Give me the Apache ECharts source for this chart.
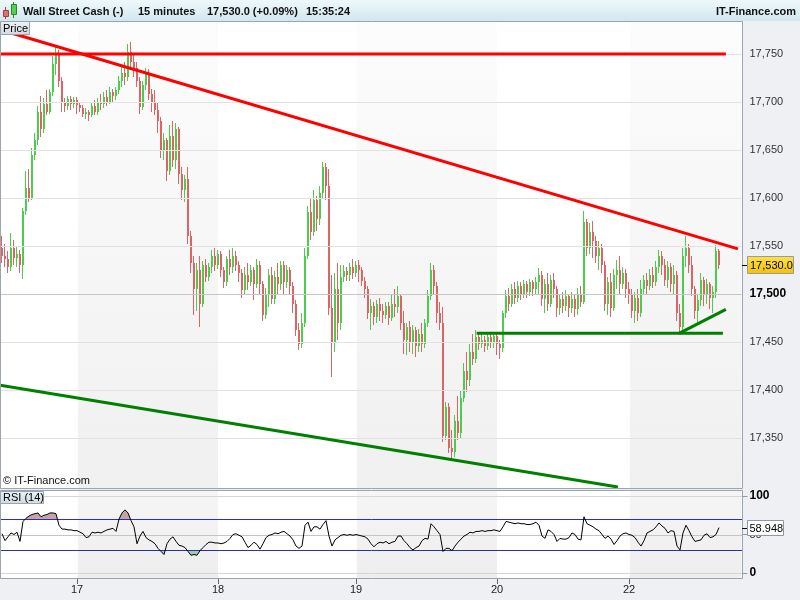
<!DOCTYPE html>
<html><head><meta charset="utf-8">
<script src="https://cdn.jsdelivr.net/npm/echarts@6/dist/echarts.min.js"></script>
<style>html,body{margin:0;padding:0;background:#eef0f3;}#c{width:800px;height:600px;}</style>
</head><body><div id="c"></div>
<script>
// ---------- DATA ----------
const instrument = 'Wall Street Cash (-)';
const timeframe = '15 minutes';
const lastPrice = 17530.0;
const lastChangePct = '+0.09%';
const clockText = '15:35:24';
const brand = 'IT-Finance.com';
const lastRsi = 58.948;

// candles: [open, close, low, high], one per 15-min slot (thinned)
const candles = [
[17548,17540,17532,17560],[17540,17536,17528,17552],[17536,17528,17522,17545],[17528,17548,17524,17564],
[17548,17538,17530,17556],[17538,17542,17528,17550],[17542,17530,17522,17546],[17530,17586,17516,17590],
[17586,17610,17582,17628],[17610,17600,17596,17630],[17600,17645,17598,17652],[17645,17660,17640,17668],
[17660,17690,17655,17696],[17690,17672,17664,17706],[17672,17698,17668,17704],[17698,17690,17686,17712],
[17690,17710,17688,17714],[17710,17740,17706,17748],[17740,17750,17728,17757],[17750,17722,17716,17754],
[17722,17700,17690,17726],[17700,17696,17690,17704],[17696,17703,17692,17706],[17703,17698,17692,17706],
[17698,17702,17694,17705],[17702,17697,17688,17705],[17697,17694,17690,17700],[17694,17688,17684,17697],
[17688,17690,17682,17694],[17690,17686,17680,17692],[17686,17696,17684,17700],[17696,17690,17686,17702],
[17690,17700,17686,17704],[17700,17698,17692,17708],[17698,17705,17694,17710],[17705,17700,17696,17712],
[17700,17710,17698,17716],[17710,17706,17700,17714],[17706,17712,17702,17716],[17712,17722,17708,17727],
[17722,17730,17716,17738],[17730,17726,17718,17742],[17726,17752,17722,17760],[17752,17742,17736,17762],
[17742,17735,17726,17750],[17735,17722,17716,17742],[17722,17695,17688,17726],[17695,17718,17692,17722],
[17718,17730,17712,17735],[17730,17708,17702,17734],[17708,17700,17690,17714],[17700,17692,17686,17712],
[17692,17680,17668,17700],[17680,17650,17642,17684],[17650,17660,17640,17668],[17660,17628,17618,17662],
[17628,17665,17624,17676],[17665,17640,17632,17680],[17640,17672,17630,17678],[17672,17625,17615,17674],
[17625,17608,17598,17632],[17608,17620,17596,17624],[17620,17560,17552,17632],[17560,17532,17522,17566],
[17532,17505,17478,17540],[17505,17525,17482,17532],[17525,17490,17466,17540],[17490,17530,17486,17534],
[17530,17518,17512,17536],[17518,17528,17514,17532],[17528,17540,17522,17546],[17540,17530,17524,17548],
[17530,17542,17526,17546],[17542,17525,17518,17545],[17525,17512,17506,17528],[17512,17536,17508,17540],
[17536,17528,17520,17546],[17528,17540,17522,17548],[17540,17530,17524,17545],[17530,17522,17512,17534],
[17522,17504,17496,17526],[17504,17520,17500,17528],[17520,17512,17504,17532],[17512,17525,17508,17530],
[17525,17510,17494,17528],[17510,17530,17506,17536],[17530,17510,17500,17534],[17510,17478,17472,17514],
[17478,17500,17474,17506],[17500,17520,17486,17526],[17520,17495,17490,17528],[17495,17518,17490,17524],
[17518,17510,17500,17532],[17510,17530,17504,17534],[17530,17512,17500,17534],[17512,17525,17506,17530],
[17525,17508,17500,17528],[17508,17490,17480,17512],[17490,17462,17456,17494],[17462,17448,17442,17470],
[17448,17470,17444,17480],[17470,17540,17466,17548],[17540,17585,17536,17592],[17585,17565,17556,17600],
[17565,17598,17560,17608],[17598,17578,17566,17602],[17578,17605,17572,17612],[17605,17632,17600,17638],
[17632,17612,17598,17636],[17612,17485,17478,17630],[17485,17450,17414,17520],[17450,17505,17440,17522],
[17505,17470,17452,17532],[17470,17518,17462,17530],[17518,17524,17512,17530],[17524,17520,17514,17528],
[17520,17528,17514,17532],[17528,17522,17516,17536],[17522,17530,17518,17534],[17530,17525,17512,17535],
[17525,17514,17508,17528],[17514,17505,17496,17518],[17505,17480,17474,17508],[17480,17488,17462,17495],
[17488,17476,17468,17492],[17476,17490,17470,17494],[17490,17482,17472,17496],[17482,17478,17470,17490],
[17478,17488,17474,17492],[17488,17475,17468,17492],[17475,17490,17472,17500],[17490,17486,17476,17505],
[17486,17498,17480,17508],[17498,17470,17462,17500],[17470,17452,17438,17482],[17452,17466,17436,17470],
[17466,17450,17440,17472],[17450,17462,17438,17468],[17462,17446,17434,17466],[17446,17458,17440,17464],
[17458,17448,17440,17470],[17448,17470,17444,17474],[17470,17498,17466,17504],[17498,17525,17494,17532],
[17525,17508,17500,17530],[17508,17480,17470,17512],[17480,17470,17462,17492],[17470,17352,17346,17486],
[17352,17382,17348,17388],[17382,17340,17334,17386],[17340,17335,17328,17358],[17335,17368,17330,17374],
[17368,17355,17348,17394],[17355,17392,17350,17400],[17392,17420,17388,17428],[17420,17410,17398,17440],
[17410,17440,17404,17448],[17440,17432,17426,17458],[17432,17455,17428,17462],[17455,17448,17442,17460],
[17448,17452,17444,17458],[17452,17446,17440,17456],[17446,17455,17442,17460],[17455,17450,17444,17458],
[17450,17456,17444,17460],[17456,17448,17436,17460],[17448,17444,17432,17452],[17444,17480,17440,17482],
[17480,17498,17475,17504],[17498,17490,17482,17506],[17490,17505,17486,17510],[17505,17496,17490,17512],
[17496,17508,17492,17514],[17508,17500,17494,17512],[17500,17510,17496,17515],[17510,17502,17496,17514],
[17502,17512,17498,17516],[17512,17505,17498,17515],[17505,17513,17500,17518],[17513,17520,17500,17527],
[17520,17495,17488,17524],[17495,17510,17480,17516],[17510,17490,17482,17522],[17490,17515,17486,17520],
[17515,17505,17496,17522],[17505,17485,17476,17508],[17485,17495,17478,17500],[17495,17488,17480,17502],
[17488,17498,17482,17504],[17498,17485,17476,17500],[17485,17495,17480,17502],[17495,17484,17476,17500],
[17484,17500,17478,17506],[17500,17492,17486,17508],[17492,17575,17490,17586],[17575,17548,17540,17578],
[17548,17565,17542,17574],[17565,17555,17538,17576],[17555,17540,17532,17560],[17540,17548,17525,17555],
[17548,17530,17522,17552],[17530,17490,17482,17534],[17490,17512,17478,17518],[17512,17485,17476,17522],
[17485,17520,17482,17526],[17520,17525,17505,17535],[17525,17510,17500,17540],[17510,17522,17505,17528],
[17522,17505,17496,17526],[17505,17500,17490,17512],[17500,17482,17475,17505],[17482,17496,17470,17502],
[17496,17480,17472,17505],[17480,17505,17476,17515],[17505,17515,17500,17520],[17515,17508,17500,17522],
[17508,17520,17504,17526],[17520,17512,17506,17528],[17512,17528,17508,17534],[17528,17540,17522,17546],
[17540,17530,17520,17545],[17530,17515,17508,17536],[17515,17528,17506,17534],[17528,17510,17502,17532],
[17510,17520,17500,17530],[17520,17480,17472,17524],[17480,17466,17459,17490],[17466,17540,17462,17548],
[17540,17548,17528,17560],[17548,17530,17522,17552],[17530,17505,17498,17540],[17505,17482,17474,17508],
[17482,17494,17470,17500],[17494,17515,17488,17522],[17515,17500,17488,17518],[17500,17510,17490,17516],
[17510,17496,17484,17512],[17496,17502,17480,17508],[17502,17545,17496,17551],[17545,17530,17526,17547]
];

// RSI(14) per candle
const rsi = [
51,42,47,52,50,53,41,67,71,74,76,77,78,73,75,76,78,78,77,62,
57,57,56,56,55,55,53,51,46,47,53,52,53,52,54,56,57,58,54,70,
78,82,78,68,60,38,48,54,46,43,41,38,32,28,24,38,44,47,41,36,
35,33,28,23,24,23,29,33,37,40,40,39,39,38,39,41,45,50,51,49,
47,40,33,36,40,37,31,38,46,49,50,52,51,53,54,51,48,43,35,32,
35,62,66,54,60,60,57,63,68,48,35,43,46,49,50,49,50,49,50,49,
48,47,44,38,34,38,40,39,41,38,40,41,48,48,42,38,33,30,33,35,
42,45,44,64,60,55,50,28,32,32,29,35,40,44,48,50,53,52,54,54,
55,54,55,55,56,55,54,60,67,66,65,64,65,64,64,63,63,64,66,62,
48,45,56,54,50,41,45,44,44,46,52,50,44,43,73,64,62,60,57,55,
50,45,48,44,37,42,48,51,52,50,49,46,40,35,42,52,54,56,60,65,
61,58,52,55,54,35,30,52,62,55,47,41,42,43,49,51,46,47,50,58.948
];

const slotCount = 247;                       // 15-min slots on the time axis (incl. empty right margin)
const dayLabels = ['17', '18', '19', '20', '22'];
const dayLabelIndex = [25, 72, 118, 165, 209];
const shadedSessions = [[25.3, 72], [118.3, 165], [209.3, 246.5]];
const priceTicks = [17350, 17400, 17450, 17500, 17550, 17600, 17650, 17700, 17750];
const boldPriceTick = 17500;
const rsiLevels = [100, 70, 50, 30, 0];
const overbought = 70, oversold = 30;

// drawn trend lines: [slot index, price]
const resistanceFlat = [[-0.6, 17750], [241.3, 17750]];
const resistanceTrend = [[0.3, 17774.5], [245.3, 17547]];
const supportTrend = [[-0.6, 17405], [205.3, 17299]];
const supportFlat = [[158.2, 17459], [240.3, 17459]];
const supportRise = [[225.7, 17459], [241.3, 17484]];

// ---------- CHART ----------
const FONT = '"Liberation Sans", Arial, sans-serif';
const UP = '#4ccc4c', DOWN = '#dc6464';
const fmt = v => String(v).replace(/\B(?=(\d{3})+(?!\d))/g, ',');
const fmt1 = v => { const s = v.toFixed(1).split('.'); return fmt(s[0]) + '.' + s[1]; };
const cats = Array.from({length: slotCount}, (_, i) => String(i));
const labelAt = {};
dayLabelIndex.forEach((k, j) => { labelAt[k] = dayLabels[j]; });
const isLabel = (i) => labelAt[i] !== undefined;

const candleTable = candles.map((d, i) => [i, d[0], d[1], d[2], d[3]]);
const rsiSegments = rsi.map((v, i) => [i, v, i + 1 < rsi.length ? rsi[i + 1] : v]);

const chart = echarts.init(document.getElementById('c'), null, {renderer: 'canvas'});
const grad = (a, b) => new echarts.graphic.LinearGradient(0, 0, 0, 1, [{offset: 0, color: a}, {offset: 1, color: b}]);

const trend = (data, color, clip) => ({
  type: 'line', xAxisIndex: 1, yAxisIndex: 0, data: data, symbol: 'none', silent: true,
  clip: clip, z: 6, lineStyle: {color: color, width: 3}
});
const hidden = {width: 0, opacity: 0, color: 'rgba(0,0,0,0)'};

function renderCandle(params, api) {
  const i = api.value(0), o = api.value(1), c = api.value(2), l = api.value(3), h = api.value(4);
  const po = api.coord([i, o]), pc = api.coord([i, c]), pl = api.coord([i, l]), ph = api.coord([i, h]);
  const x = Math.round(po[0]);
  const col = c >= o ? UP : DOWN;
  const yh = Math.round(ph[1]), yl = Math.round(pl[1]);
  const top = Math.round(Math.min(po[1], pc[1])), bot = Math.round(Math.max(po[1], pc[1]));
  return {type: 'group', children: [
    {type: 'rect', shape: {x: x - 1, y: yh, width: 1, height: Math.max(1, yl - yh)}, style: {fill: col}},
    {type: 'rect', shape: {x: x - 1, y: top, width: 2, height: Math.max(1, bot - top)}, style: {fill: col}}
  ]};
}

// fills between the RSI line and the overbought / oversold levels
function renderZone(params, api) {
  const i = api.value(0), a = api.value(1), b = api.value(2);
  const p0 = api.coord([i, a]), p1 = api.coord([i + 1, b]);
  const kids = [];
  [[overbought, 1, '#c9a2a2'], [oversold, -1, '#9fd09f']].forEach(z => {
    const lvl = z[0], s = z[1], col = z[2];
    const da = s * (a - lvl), db = s * (b - lvl);
    if (da <= 0 && db <= 0) return;
    const yl = api.coord([i, lvl])[1];
    let pts;
    if (da > 0 && db > 0) pts = [[p0[0], yl], [p0[0], p0[1]], [p1[0], p1[1]], [p1[0], yl]];
    else if (da > 0) { const t = da / (da - db); const xc = p0[0] + t * (p1[0] - p0[0]); pts = [[p0[0], yl], [p0[0], p0[1]], [xc, yl]]; }
    else { const t = -da / (db - da); const xc = p0[0] + t * (p1[0] - p0[0]); pts = [[xc, yl], [p1[0], p1[1]], [p1[0], yl]]; }
    kids.push({type: 'polygon', shape: {points: pts}, style: {fill: col}});
  });
  return {type: 'group', children: kids};
}

const GL = 0.5, GW = 741;
const option = {
  animation: false,
  backgroundColor: '#eef0f3',
  textStyle: {fontFamily: FONT},
  grid: [
    {left: GL, top: 21, width: GW, height: 465},
    {left: GL, top: 496, width: GW, height: 77},
    {left: GL, top: 21, width: GW, height: 467},
    {left: GL, top: 491, width: GW, height: 87}
  ],
  xAxis: [
    {type: 'category', gridIndex: 0, data: cats, boundaryGap: true, show: false},
    {type: 'value', gridIndex: 0, min: -0.5, max: slotCount - 0.5, show: false},
    {type: 'category', gridIndex: 1, data: cats, boundaryGap: true, offset: 5,
      axisLine: {show: false, onZero: false},
      axisTick: {show: true, interval: isLabel, alignWithLabel: true, length: 6, lineStyle: {color: '#666'}},
      axisLabel: {interval: isLabel, formatter: (v, i) => labelAt[i] || '', margin: 6, fontSize: 11, color: '#222', fontFamily: FONT},
      splitLine: {show: false}},
    {type: 'value', gridIndex: 2, min: -0.5, max: slotCount - 0.5, show: false},
    {type: 'value', gridIndex: 3, min: -0.5, max: slotCount - 0.5, show: false}
  ],
  yAxis: [
    {type: 'value', gridIndex: 0, position: 'right', min: 17300, max: 17784.375, interval: 50,
      axisLine: {show: false}, splitLine: {show: false},
      axisTick: {show: true, length: 6, lineStyle: {color: '#8f9aa5'}},
      axisLabel: {showMinLabel: false, showMaxLabel: false, margin: 8, fontFamily: FONT,
        formatter: v => (v === boldPriceTick ? '{b|' + fmt(v) + '}' : '{n|' + fmt(v) + '}'),
        rich: {b: {fontWeight: 'bold', fontSize: 12, color: '#000', fontFamily: FONT},
               n: {fontSize: 11, color: '#333', fontFamily: FONT}}}},
    {type: 'value', gridIndex: 1, position: 'right', min: 0, max: 100, interval: 50,
      axisLine: {show: false}, splitLine: {show: false},
      axisTick: {show: true, length: 6, lineStyle: {color: '#8f9aa5'}},
      axisLabel: {margin: 8, fontFamily: FONT,
        formatter: v => (v === 50 ? '{n|' + v + '}' : '{b|' + v + '}'),
        rich: {b: {fontWeight: 'bold', fontSize: 12, color: '#000', fontFamily: FONT},
               n: {fontSize: 11, color: '#333', fontFamily: FONT}}}},
    {type: 'value', gridIndex: 2, min: 0, max: 1, show: false},
    {type: 'value', gridIndex: 3, min: 0, max: 1, show: false}
  ],
  series: [
    {type: 'line', xAxisIndex: 3, yAxisIndex: 2, data: [[-0.5, 0]], symbol: 'none', silent: true, z: 1,
      lineStyle: hidden,
      markArea: {silent: true, itemStyle: {color: grad('#fcfcfc', '#f0f0f0')},
        data: shadedSessions.map(b => [{xAxis: b[0]}, {xAxis: b[1]}])}},
    {type: 'line', xAxisIndex: 4, yAxisIndex: 3, data: [[-0.5, 0]], symbol: 'none', silent: true, z: 1,
      lineStyle: hidden,
      markArea: {silent: true, itemStyle: {color: grad('#f5f5f5', '#eeeeee')},
        data: shadedSessions.map(b => [{xAxis: b[0]}, {xAxis: b[1]}])}},
    {type: 'line', xAxisIndex: 1, yAxisIndex: 0, data: [[-0.5, 17500]], symbol: 'none', silent: true, z: 2,
      lineStyle: hidden,
      markLine: {silent: true, symbol: 'none', label: {show: false},
        data: priceTicks.map(v => ({yAxis: v, lineStyle: {color: v === boldPriceTick ? '#c6c6c6' : '#e2e2e2', width: 1, type: 'solid'}}))}},
    {type: 'custom', xAxisIndex: 0, yAxisIndex: 0, data: candleTable, silent: true, z: 4,
      encode: {x: 0, y: [1, 2, 3, 4]}, renderItem: renderCandle},
    trend(resistanceFlat, '#ff0000', true),
    trend(resistanceTrend, '#ff0000', true),
    trend(supportTrend, '#008000', false),
    trend(supportFlat, '#008000', true),
    trend(supportRise, '#008000', true),
    {type: 'custom', xAxisIndex: 2, yAxisIndex: 1, data: rsiSegments, silent: true, z: 3,
      encode: {x: 0, y: [1, 2]}, renderItem: renderZone},
    {type: 'line', xAxisIndex: 2, yAxisIndex: 1, data: rsi, symbol: 'none', silent: true, z: 5,
      lineStyle: {color: '#000', width: 1}}
  ]
};
chart.setOption(option);

const ly = chart.convertToPixel({yAxisIndex: 0}, lastPrice);
const ry = chart.convertToPixel({yAxisIndex: 1}, lastRsi);
const txt = (x, y, s, size, weight, color, align) => ({
  type: 'text', x: x, y: y, z: 120, silent: true,
  style: {text: s, fill: color || '#000', font: (weight || 'normal') + ' ' + size + 'px ' + FONT,
          textVerticalAlign: 'middle', textAlign: align || 'left'}
});
const levelLines = rsiLevels.map(v => {
  const y = Math.round(chart.convertToPixel({yAxisIndex: 1}, v)) + 0.5;
  const col = (v === overbought || v === oversold) ? '#2c2cc0' : (v === 50 ? '#c4c4c4' : '#d6d6d6');
  return {type: 'line', z: 4, silent: true, shape: {x1: 1, y1: y, x2: 742, y2: y}, style: {stroke: col, lineWidth: 1}};
});
const g = [
  {type: 'rect', z: -5, silent: true, shape: {x: 0, y: 0, width: 800, height: 21}, style: {fill: grad('#eef8fb', '#d2e7ee')}},
  {type: 'rect', z: -5, silent: true, shape: {x: 0, y: 21, width: 742, height: 467}, style: {fill: '#ffffff'}},
  {type: 'rect', z: -5, silent: true, shape: {x: 0, y: 491, width: 742, height: 87}, style: {fill: '#ffffff'}},
  {type: 'rect', z: 110, silent: true, shape: {x: 0.5, y: 21.5, width: 742, height: 467}, style: {fill: null, stroke: '#9aa5af', lineWidth: 1}},
  {type: 'rect', z: 110, silent: true, shape: {x: 0.5, y: 490.5, width: 742, height: 88}, style: {fill: null, stroke: '#9aa5af', lineWidth: 1}},
  {type: 'line', z: 115, silent: true, shape: {x1: 5.5, y1: 7, x2: 5.5, y2: 19}, style: {stroke: '#a04040', lineWidth: 1}},
  {type: 'rect', z: 116, silent: true, shape: {x: 3.5, y: 10.5, width: 5, height: 6}, style: {fill: '#e07070', stroke: '#a04040', lineWidth: 1}},
  {type: 'line', z: 115, silent: true, shape: {x1: 13.5, y1: 2, x2: 13.5, y2: 18}, style: {stroke: '#2a8a2a', lineWidth: 1}},
  {type: 'rect', z: 116, silent: true, shape: {x: 11.5, y: 4.5, width: 5, height: 10}, style: {fill: '#55d055', stroke: '#2a8a2a', lineWidth: 1}},
  txt(23, 11.5, instrument, 11, 'bold', '#111'),
  txt(138, 11.5, timeframe, 11, 'bold', '#111'),
  txt(207, 11.5, fmt1(lastPrice) + ' (' + lastChangePct + ')', 11, 'bold', '#111'),
  txt(306, 11.5, clockText, 11, 'bold', '#111'),
  txt(796, 11.5, brand, 11, 'bold', '#111', 'right'),
  {type: 'rect', z: 115, silent: true, shape: {x: 0.5, y: 21.5, width: 29, height: 13}, style: {fill: grad('#edf2f5', '#cfd9e1'), stroke: '#98a4ae', lineWidth: 1}},
  txt(3, 28.5, 'Price', 11, 'normal', '#000'),
  txt(3, 481, '\u00a9 ' + brand, 11, 'normal', '#111'),
  {type: 'rect', z: 115, silent: true, shape: {x: 0.5, y: 491.5, width: 43, height: 12}, style: {fill: grad('#edf2f5', '#cfd9e1'), stroke: '#98a4ae', lineWidth: 1}},
  txt(3, 497.5, 'RSI (14)', 11, 'normal', '#000'),
  {type: 'line', z: 115, silent: true, shape: {x1: 742, y1: Math.round(ly) + 0.5, x2: 748, y2: Math.round(ly) + 0.5}, style: {stroke: '#000', lineWidth: 1}},
  {type: 'rect', z: 116, silent: true, shape: {x: 747.5, y: Math.round(ly) - 8.5, width: 46, height: 17}, style: {fill: grad('#ffe14d', '#f3c300'), stroke: '#9a9a9a', lineWidth: 1}},
  txt(750, Math.round(ly) + 0.5, fmt1(lastPrice), 11, 'normal', '#000'),
  {type: 'line', z: 115, silent: true, shape: {x1: 742, y1: Math.round(ry) + 0.5, x2: 748, y2: Math.round(ry) + 0.5}, style: {stroke: '#000', lineWidth: 1}},
  {type: 'rect', z: 116, silent: true, shape: {x: 747.5, y: Math.round(ry) - 7.5, width: 36, height: 15}, style: {fill: '#ffffff', stroke: '#8c98a4', lineWidth: 1}},
  txt(749.5, Math.round(ry) + 0.5, String(lastRsi), 11, 'normal', '#000')
].concat(levelLines);
chart.setOption({graphic: {elements: g}});
</script>
</body></html>
